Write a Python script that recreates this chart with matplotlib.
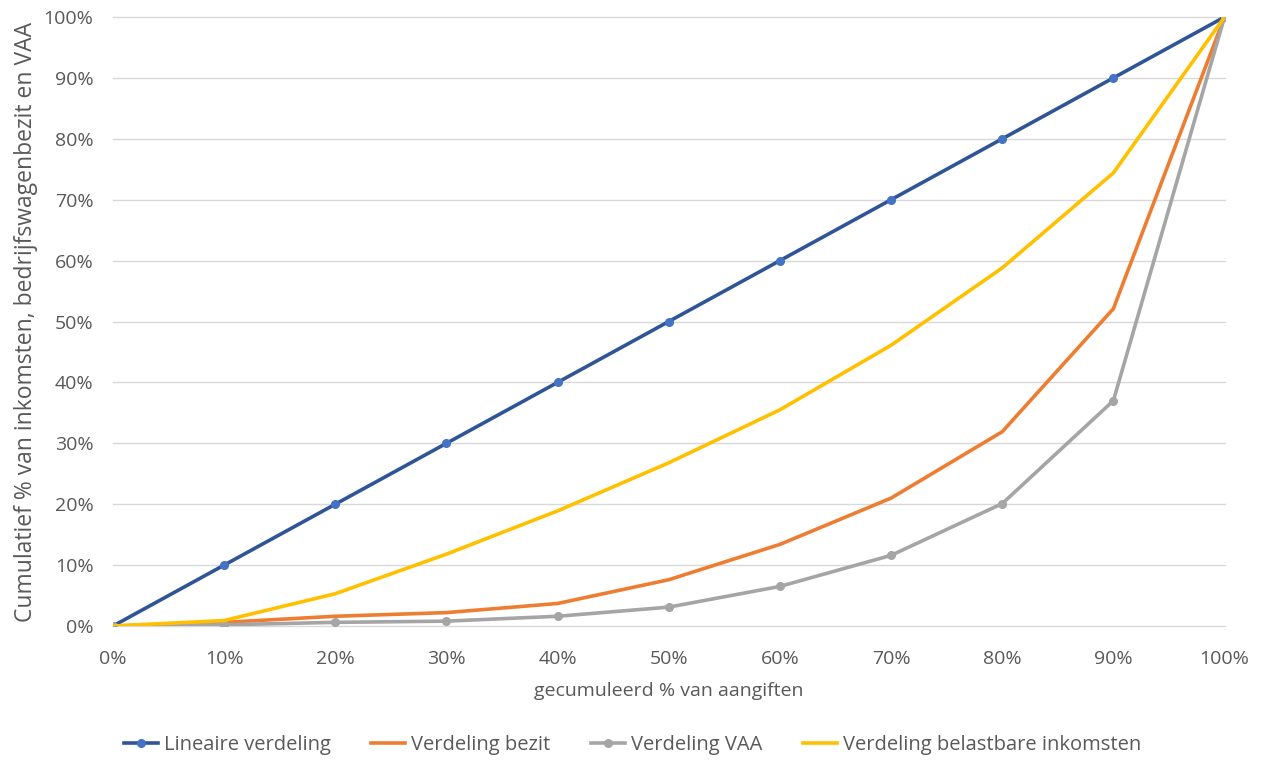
import matplotlib
matplotlib.use("Agg")
import matplotlib.pyplot as plt
from matplotlib.ticker import PercentFormatter, MultipleLocator

# Cumulative share of filings (x) and cumulative shares of each quantity (y), in %
aangiften = [0, 10, 20, 30, 40, 50, 60, 70, 80, 90, 100]
lineair = [0, 10, 20, 30, 40, 50, 60, 70, 80, 90, 100]
bezit = [0, 0.6, 1.6, 2.2, 3.7, 7.6, 13.4, 21.0, 31.9, 52.1, 100]
vaa = [0, 0.2, 0.6, 0.8, 1.6, 3.1, 6.5, 11.6, 20.1, 37.0, 100]
inkomsten = [0, 0.9, 5.3, 11.8, 18.9, 26.8, 35.5, 46.1, 58.8, 74.4, 100]

labels = ["Lineaire verdeling", "Verdeling bezit", "Verdeling VAA",
          "Verdeling belastbare inkomsten"]

plt.rcParams["font.family"] = ["Open Sans", "DejaVu Sans"]
text_color = "#595959"

fig = plt.figure(figsize=(12.65, 7.6), dpi=100)
ax = fig.add_axes([0.0893, 0.1763, 0.8787, 0.8013])

lw = 2.6
ax.plot(aangiften, lineair, color="#2F5597", lw=lw, marker="o", ms=5.5,
        mfc="#4472C4", mec="#4472C4", label=labels[0], zorder=3)
ax.plot(aangiften, bezit, color="#ED7D31", lw=lw, label=labels[1], zorder=3)
ax.plot(aangiften, vaa, color="#A5A5A5", lw=lw, marker="o", ms=5.5,
        mfc="#A5A5A5", mec="#A5A5A5", label=labels[2], zorder=3)
ax.plot(aangiften, inkomsten, color="#FFC000", lw=lw, label=labels[3], zorder=3)

ax.set_xlim(0, 100)
ax.set_ylim(0, 100)
ax.xaxis.set_major_locator(MultipleLocator(10))
ax.yaxis.set_major_locator(MultipleLocator(10))
ax.xaxis.set_major_formatter(PercentFormatter(decimals=0))
ax.yaxis.set_major_formatter(PercentFormatter(decimals=0))

ax.grid(axis="y", color="#D9D9D9", lw=1.0, zorder=0)
for gl in ax.get_ygridlines():
    gl.set_clip_on(False)
ax.set_axisbelow(True)
for side in ["top", "right", "left", "bottom"]:
    ax.spines[side].set_visible(False)
ax.tick_params(axis="both", length=0, labelsize=14, labelcolor=text_color)
ax.tick_params(axis="x", pad=17)
ax.tick_params(axis="y", pad=14)

ax.set_xlabel("gecumuleerd % van aangiften", fontsize=14, color=text_color, labelpad=10)
ax.set_ylabel("Cumulatief % van inkomsten, bedrijfswagenbezit en VAA",
              fontsize=16.5, color=text_color, labelpad=4)

leg = fig.legend(loc="center", ncol=4, frameon=False, fontsize=14.5,
                 bbox_to_anchor=(0.5, 1 - 745 / 760), handlelength=1.7,
                 columnspacing=2.0, handletextpad=0.3)
for t in leg.get_texts():
    t.set_color(text_color)

fig.savefig("out.png", dpi=100)
